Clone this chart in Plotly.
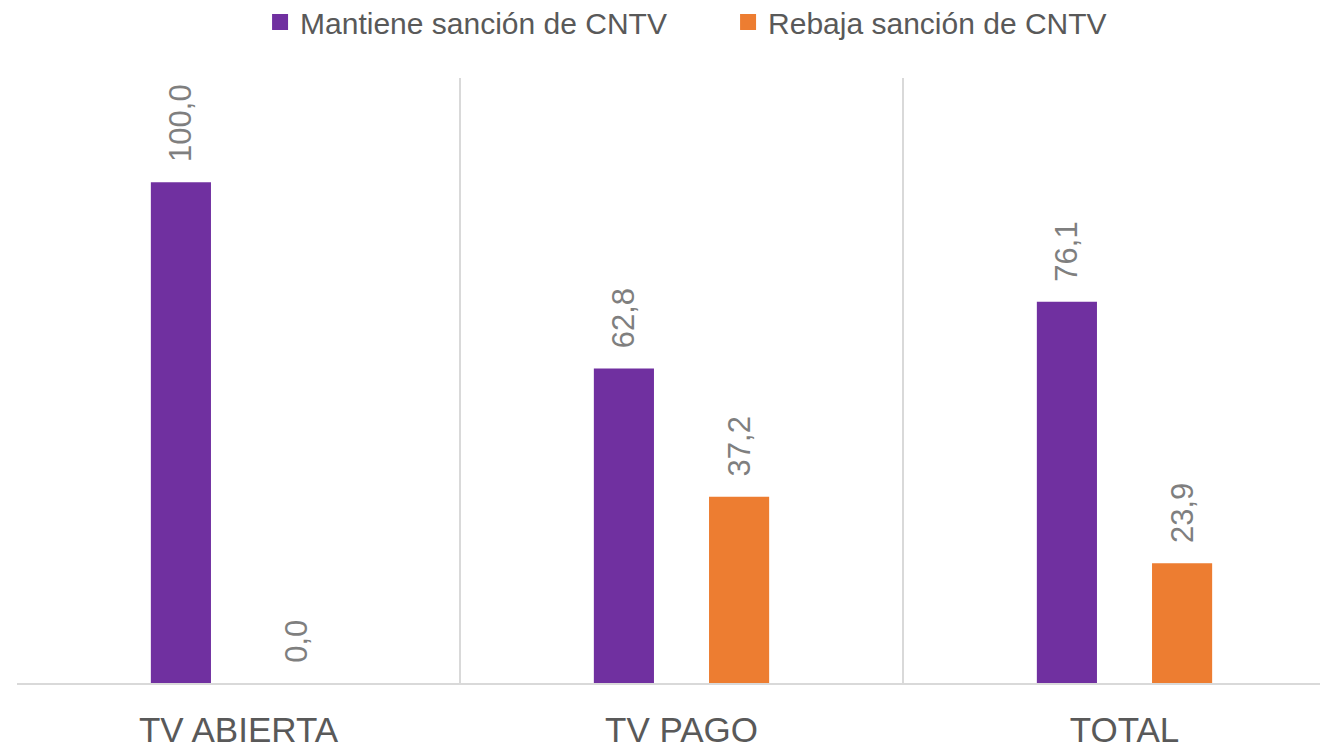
import plotly.graph_objects as go

categories = ["TV ABIERTA", "TV PAGO", "TOTAL"]
series_names = ["Mantiene sanción de CNTV", "Rebaja sanción de CNTV"]
mantiene = [100.0, 62.8, 76.1]
rebaja = [0.0, 37.2, 23.9]
colors = ["#7030A0", "#ED7D31"]

xpos = list(range(len(categories)))
font_main = "Liberation Sans, Arial, sans-serif"

fig = go.Figure()
for name, vals, col in zip(series_names, [mantiene, rebaja], colors):
    fig.add_trace(go.Bar(
        x=xpos, y=vals, name=name,
        marker=dict(color=col, line=dict(width=0)),
        texttemplate="\u00a0\u00a0%{y:.1f}",
        textposition="outside",
        textangle=-90,
        constraintext="none",
        cliponaxis=False,
        textfont=dict(family=font_main, size=31, color="#7F7F7F"),
        showlegend=False,
    ))
# legend entries with larger square swatches
for name, col in zip(series_names, colors):
    fig.add_trace(go.Scatter(
        x=[None], y=[None], mode="markers", name=name,
        marker=dict(symbol="square", size=20, color=col),
        showlegend=True,
    ))

# page body adds an 8px margin, so the figure is 8px smaller than the window
W, H = 1320, 742
fig.update_layout(
    width=W, height=H,
    separators=",.",
    barmode="group",
    bargap=0.48, bargroupgap=0.478,
    plot_bgcolor="white", paper_bgcolor="white",
    margin=dict(l=9, r=0, t=70, b=67, autoexpand=False),
    showlegend=True,
    legend=dict(
        orientation="h", xref="paper", yref="paper",
        x=0.1854, xanchor="left", y=1.0926, yanchor="middle",
        font=dict(family=font_main, size=30, color="#595959"),
        entrywidth=423, entrywidthmode="pixels",
        itemsizing="trace",
        bgcolor="rgba(0,0,0,0)",
    ),
    xaxis=dict(
        range=[-0.5, 2.5 - 18 / 443],
        tickvals=xpos, ticktext=categories,
        tickfont=dict(family=font_main, size=35, color="#595959"),
        ticks="outside", ticklen=15, tickcolor="rgba(0,0,0,0)",
        showgrid=False,
        showline=True, linecolor="#D9D9D9", linewidth=2,
        minor=dict(tick0=-0.5, dtick=1, showgrid=True, gridcolor="#D9D9D9", gridwidth=2, ticks=""),
        zeroline=False,
        fixedrange=True,
    ),
    yaxis=dict(
        range=[0, 120.8],
        visible=False,
        showgrid=False, zeroline=False,
    ),
)

fig.write_html("out.html")
